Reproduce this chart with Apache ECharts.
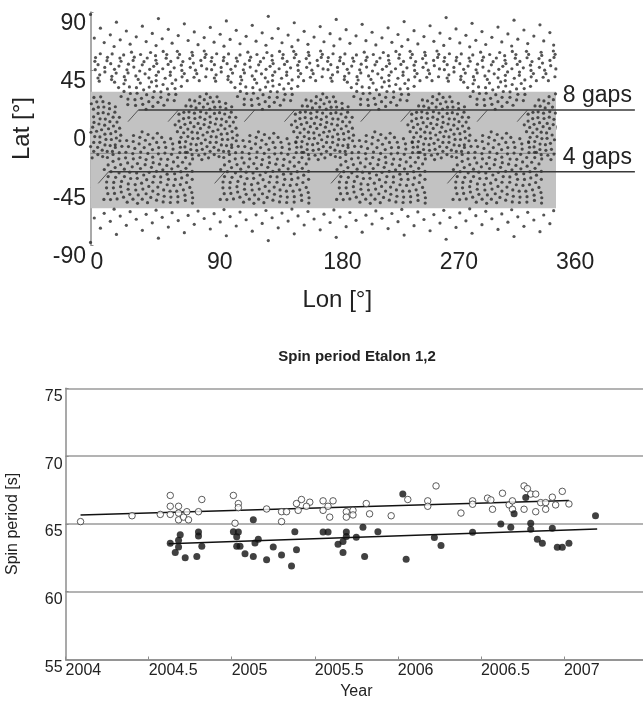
<!DOCTYPE html>
<html>
<head>
<meta charset="utf-8">
<script src="https://cdn.jsdelivr.net/npm/echarts@6/dist/echarts.min.js"></script>
<style>
  html, body { margin: 0; padding: 0; background: #ffffff; }
  #chart { width: 643px; height: 705px; }
</style>
</head>
<body>
<div id="chart"></div>
<script>
// ---------- Upper panel: reflector positions on the sphere (degrees) ----------
// polar caps: [centre latitude, cap radius, reflector count]
const polarCaps = [[90, 27, 100], [-90, 28, 100]];
// equatorial panels, centre [lon, lat]; size = [half-width lon, half-height lat, count]
const equatorPanels = [[0, 1], [90, 1], [180, 1], [270, 1]];
const equatorSize = [25, 26, 110];
// southern panels: flat lower edge, rounded top
const southPanels = [[45, -30], [135, -30], [225, -30], [315, -30]];
const southSize = [35, 28, 150];
// northern strip sectors (lat 36..60)
const northStrip = [[45, 48], [135, 48], [225, 48], [315, 48]];
const northStripSize = [45, 12, 85];
// northern lobes hanging below the strip
const northLobes = [[45, 36], [135, 36], [225, 36], [315, 36]];
const northLobeSize = [27, 22, 38];

// shaded latitude band [south edge, north edge]
const bandLat = [-61.6, 28.4];
// gap lines: latitude, starting longitude, end longitude, label
const gapLines = [
  { lat: 14.3, from: 37, to: 421, label: '8 gaps' },
  { lat: -33.4, from: 14, to: 421, label: '4 gaps' }
];
const gap8Lon = [37, 68, 127, 158, 217, 248, 307, 338];
const gap4Lon = [14, 104, 194, 284];
const strokeSpan = [8, 9]; // each gap marker rises this far in lon / lat
const faintLineLat = -19.2;

const lonTicks = [0, 90, 180, 270, 360];
const latTicks = [-90, -45, 0, 45, 90];

// ---------- Lower panel: spin period vs year ----------
const openYears = [2004.09, 2004.40, 2004.57, 2004.63, 2004.63, 2004.63, 2004.68, 2004.68, 2004.68, 2004.71,
  2004.73, 2004.74, 2004.80, 2004.82, 2005.01, 2005.04, 2005.04, 2005.02, 2005.21, 2005.30,
  2005.30, 2005.33, 2005.39, 2005.42, 2005.40, 2005.47, 2005.45, 2005.55, 2005.55, 2005.58,
  2005.61, 2005.59, 2005.69, 2005.69, 2005.73, 2005.73, 2005.81, 2005.83, 2005.96, 2006.06,
  2006.18, 2006.18, 2006.23, 2006.38, 2006.45, 2006.45, 2006.54, 2006.56, 2006.57, 2006.63,
  2006.67, 2006.69, 2006.69, 2006.76, 2006.78, 2006.76, 2006.80, 2006.83, 2006.83, 2006.86,
  2006.89, 2006.89, 2006.93, 2006.95, 2006.99, 2007.03];
const openPeriods = [65.17, 65.6, 65.7, 67.1, 66.3, 65.7, 66.3, 65.8, 65.3, 65.5,
  65.9, 65.3, 65.9, 66.8, 67.1, 66.5, 66.2, 65.05, 66.1, 65.9,
  65.17, 65.9, 66.5, 66.8, 66.0, 66.6, 66.3, 66.7, 66.0, 66.3,
  66.7, 65.5, 65.9, 65.5, 66.0, 65.66, 66.5, 65.74, 65.6, 66.8,
  66.7, 66.3, 67.8, 65.8, 66.7, 66.45, 66.9, 66.77, 66.08, 67.26,
  66.4, 66.7, 66.08, 67.8, 67.6, 66.08, 67.2, 67.2, 65.9, 66.57,
  66.57, 66.08, 66.97, 66.4, 67.4, 66.47];
const filledYears = [2004.63, 2004.68, 2004.69, 2004.68, 2004.80, 2004.80, 2004.82, 2005.01, 2005.04, 2005.03,
  2005.03, 2005.05, 2005.13, 2005.14, 2005.16, 2005.25, 2005.38, 2005.39, 2005.55, 2005.58,
  2005.64, 2005.69, 2005.69, 2005.67, 2005.75, 2005.79, 2005.88, 2006.03, 2006.22, 2006.26,
  2006.45, 2006.62, 2006.68, 2006.70, 2006.77, 2006.80, 2006.80, 2006.84, 2006.87, 2006.93,
  2006.96, 2006.99, 2007.03, 2007.19, 2004.66, 2004.72, 2004.79, 2005.08, 2005.13, 2005.21,
  2005.30, 2005.36, 2005.67, 2005.80, 2006.05];
const filledPeriods = [63.58, 63.8, 64.2, 63.3, 64.4, 64.1, 63.35, 64.43, 64.4, 64.06,
  63.35, 63.35, 65.3, 63.6, 63.87, 63.3, 64.43, 63.1, 64.4, 64.4,
  63.5, 64.4, 64.07, 63.7, 64.02, 64.76, 64.43, 67.2, 63.99, 63.4,
  64.39, 65.0, 64.76, 65.74, 66.94, 65.05, 64.6, 63.87, 63.58, 64.68,
  63.28, 63.28, 63.58, 65.6, 62.9, 62.5, 62.6, 62.8, 62.6, 62.35,
  62.7, 61.9, 62.9, 62.6, 62.4];
// fitted trends: [[year, period], [year, period]]
const openTrend = [[2004.09, 65.65], [2007.03, 66.72]];
const filledTrend = [[2004.62, 63.53], [2007.20, 64.63]];

const yearTicks = [2004, 2004.5, 2005, 2005.5, 2006, 2006.5, 2007];
const periodTicks = [55, 60, 65, 70, 75];

// ---------- reflector layout helpers ----------
const GOLDEN = Math.PI * (3 - Math.sqrt(5));
const wrapLon = (lon) => ((lon % 360) + 360) % 360;

function spiral(m, reach) {
  const pts = [];
  for (let i = 0; i < m; i++) {
    const r = reach * Math.sqrt((i + 0.5) / m);
    const t = i * GOLDEN;
    pts.push([r * Math.cos(t), r * Math.sin(t)]);
  }
  return pts;
}

function inside(shape, u, v) {
  if (shape === 'disc') return u * u + v * v <= 1;
  if (shape === 'rect') return Math.abs(u) <= 1 && Math.abs(v) <= 1;
  if (shape === 'arch') return v <= 0 ? (Math.abs(u) <= 1 && v >= -1) : (u * u + v * v <= 1);
  if (shape === 'lobe') return v <= 0 && u * u + v * v <= 1;
  return false;
}

function panelPoints(centre, size, shape) {
  const [lon, lat] = centre;
  const [a, b, count] = size;
  const reach = (shape === 'disc' || shape === 'lobe') ? 1 : Math.SQRT2;
  const probe = 4000;
  const kept = spiral(probe, reach).filter(([u, v]) => inside(shape, u, v)).length;
  const m = Math.round(count * probe / kept);
  return spiral(m, reach)
    .filter(([u, v]) => inside(shape, u, v))
    .map(([u, v]) => [wrapLon(lon + u * a), lat + v * b]);
}

function capPoints([lat0, radius, count]) {
  const sign = lat0 > 0 ? 1 : -1;
  const pts = [];
  for (let i = 0; i < count; i++) {
    const r = radius * Math.sqrt((i + 0.5) / count);
    const lon = wrapLon(i * GOLDEN * 180 / Math.PI);
    pts.push([lon, sign * (90 - r)]);
  }
  return pts;
}

const reflectors = [];
polarCaps.forEach(c => reflectors.push(...capPoints(c)));
equatorPanels.forEach(p => reflectors.push(...panelPoints(p, equatorSize, 'disc')));
southPanels.forEach(p => reflectors.push(...panelPoints(p, southSize, 'arch')));
northStrip.forEach(p => reflectors.push(...panelPoints(p, northStripSize, 'rect')));
northLobes.forEach(p => reflectors.push(...panelPoints(p, northLobeSize, 'lobe')));

const gapStrokes = [];
gap8Lon.forEach(l => gapStrokes.push({ coords: [[l - strokeSpan[0], gapLines[0].lat - strokeSpan[1]], [l, gapLines[0].lat]] }));
gap4Lon.forEach(l => gapStrokes.push({ coords: [[l - strokeSpan[0], gapLines[1].lat - strokeSpan[1]], [l, gapLines[1].lat]] }));

const zip = (xs, ys) => xs.map((x, i) => [x, ys[i]]);

// ---------- chart ----------
const FONT = '"Liberation Sans", Arial, Helvetica, sans-serif';
const TEXT = '#222';
const AXIS = '#8c8c8c';
const plain = (v) => String(v);

// the upper map: 0..360 deg over 465.5 px; the gap lines run on past 360
const MAP_LEFT = 90.5, MAP_TOP = 12, MAP_W = 465.5, MAP_H = 233;
const lineMax = gapLines[0].to;

const chart = echarts.init(document.getElementById('chart'), null, { renderer: 'canvas' });

chart.setOption({
  animation: false,
  backgroundColor: '#ffffff',
  textStyle: { fontFamily: FONT },
  title: {
    text: 'Spin period Etalon 1,2',
    left: 352, top: 344, textAlign: 'center',
    textStyle: { fontFamily: FONT, fontSize: 15, fontWeight: 'bold', color: TEXT }
  },
  grid: [
    { left: MAP_LEFT, top: MAP_TOP, width: MAP_W, height: MAP_H, outerBoundsMode: 'none', containLabel: false },
    { left: 65.6, top: 388.3, width: 581.4, height: 271.2, outerBoundsMode: 'none', containLabel: false },
    { left: MAP_LEFT, top: MAP_TOP, width: MAP_W * lineMax / 360, height: MAP_H, outerBoundsMode: 'none', containLabel: false }
  ],
  xAxis: [
    {
      gridIndex: 0, type: 'value', min: 0, max: 360, interval: 90, offset: 3,
      name: 'Lon [°]', nameLocation: 'middle', nameGap: 40,
      nameTextStyle: { fontFamily: FONT, fontSize: 24, color: TEXT, padding: [0, 0, 0, 28] },
      axisLine: { show: true, lineStyle: { color: AXIS, width: 1.5 } },
      axisTick: { show: true, inside: true, length: 3, lineStyle: { color: AXIS } },
      axisLabel: {
        customValues: lonTicks, align: 'left', margin: 3, formatter: plain,
        fontFamily: FONT, fontSize: 23, color: TEXT
      },
      splitLine: { show: false }
    },
    {
      gridIndex: 1, type: 'value', min: 2004, max: 2007.5, interval: 0.5,
      name: 'Year', nameLocation: 'middle', nameGap: 24,
      nameTextStyle: { fontFamily: FONT, fontSize: 16, color: TEXT },
      axisLine: { show: true, lineStyle: { color: AXIS, width: 1.5 } },
      axisTick: { show: true, inside: true, length: 3, customValues: yearTicks, lineStyle: { color: AXIS } },
      axisLabel: {
        customValues: yearTicks, align: 'left', margin: 3, formatter: plain,
        fontFamily: FONT, fontSize: 16, color: TEXT
      },
      splitLine: { show: false }
    },
    {
      gridIndex: 2, type: 'value', min: 0, max: lineMax, show: false
    }
  ],
  yAxis: [
    {
      gridIndex: 0, type: 'value', min: -90, max: 90, interval: 45, offset: 2.5,
      name: 'Lat [°]', nameLocation: 'middle', nameGap: 54,
      nameTextStyle: { fontFamily: FONT, fontSize: 24, color: TEXT },
      axisLine: { show: true, lineStyle: { color: AXIS, width: 1.5 } },
      axisTick: { show: true, inside: true, length: 3, lineStyle: { color: AXIS } },
      axisLabel: {
        customValues: latTicks, verticalAlign: 'top', margin: 2, formatter: plain,
        fontFamily: FONT, fontSize: 23, color: TEXT
      },
      splitLine: { show: false }
    },
    {
      gridIndex: 1, type: 'value', min: 55, max: 75, interval: 5,
      name: 'Spin period [s]', nameLocation: 'middle', nameGap: 45,
      nameTextStyle: { fontFamily: FONT, fontSize: 16, color: TEXT },
      axisLine: { show: true, lineStyle: { color: AXIS, width: 1.5 } },
      axisTick: { show: true, inside: true, length: 3, lineStyle: { color: AXIS } },
      axisLabel: {
        customValues: periodTicks, verticalAlign: 'top', margin: 3, formatter: plain,
        fontFamily: FONT, fontSize: 16, color: TEXT
      },
      splitLine: { show: true, lineStyle: { color: '#9a9a9a', width: 1.5 } }
    },
    {
      gridIndex: 2, type: 'value', min: -90, max: 90, show: false
    }
  ],
  series: [
    {
      // shaded latitude band
      type: 'custom', xAxisIndex: 0, yAxisIndex: 0, z: 1, silent: true,
      data: [[0, bandLat[1], 360, bandLat[0]]],
      renderItem: (params, api) => {
        const p1 = api.coord([api.value(0), api.value(1)]);
        const p2 = api.coord([api.value(2), api.value(3)]);
        return {
          type: 'rect',
          shape: { x: p1[0], y: p1[1], width: p2[0] - p1[0], height: p2[1] - p1[1] },
          style: { fill: '#c2c2c2' }
        };
      }
    },
    {
      type: 'line', xAxisIndex: 0, yAxisIndex: 0, z: 2, silent: true,
      data: [[0, faintLineLat], [360, faintLineLat]],
      showSymbol: false, lineStyle: { color: '#8a8a8a', width: 1 }
    },
    {
      type: 'scatter', xAxisIndex: 0, yAxisIndex: 0, z: 3, silent: true,
      data: reflectors, symbol: 'circle', symbolSize: 3.2,
      itemStyle: { color: '#2b2b2b' }
    },
    ...gapLines.map(g => ({
      type: 'line', xAxisIndex: 2, yAxisIndex: 2, z: 4, silent: true,
      data: [[g.from, g.lat], [g.to, g.lat]],
      showSymbol: false, lineStyle: { color: '#3a3a3a', width: 1.5 },
      endLabel: {
        show: true, formatter: g.label, align: 'right', verticalAlign: 'bottom',
        distance: 0, offset: [-3, -3],
        fontFamily: FONT, fontSize: 23, color: TEXT
      }
    })),
    {
      type: 'lines', coordinateSystem: 'cartesian2d', xAxisIndex: 0, yAxisIndex: 0, z: 4, silent: true,
      data: gapStrokes,
      lineStyle: { color: '#555', width: 1, opacity: 1 }
    },
    // lower panel
    {
      type: 'line', xAxisIndex: 1, yAxisIndex: 1, z: 3, silent: true,
      data: openTrend, showSymbol: false, lineStyle: { color: '#111', width: 1.5 }
    },
    {
      type: 'line', xAxisIndex: 1, yAxisIndex: 1, z: 3, silent: true,
      data: filledTrend, showSymbol: false, lineStyle: { color: '#111', width: 1.5 }
    },
    {
      type: 'scatter', xAxisIndex: 1, yAxisIndex: 1, z: 4, silent: true,
      data: zip(openYears, openPeriods), symbol: 'circle', symbolSize: 6.5,
      itemStyle: { color: '#ffffff', borderColor: '#333', borderWidth: 1 }
    },
    {
      type: 'scatter', xAxisIndex: 1, yAxisIndex: 1, z: 5, silent: true,
      data: zip(filledYears, filledPeriods), symbol: 'circle', symbolSize: 7,
      itemStyle: { color: '#111' }
    }
  ]
});
</script>
</body>
</html>
